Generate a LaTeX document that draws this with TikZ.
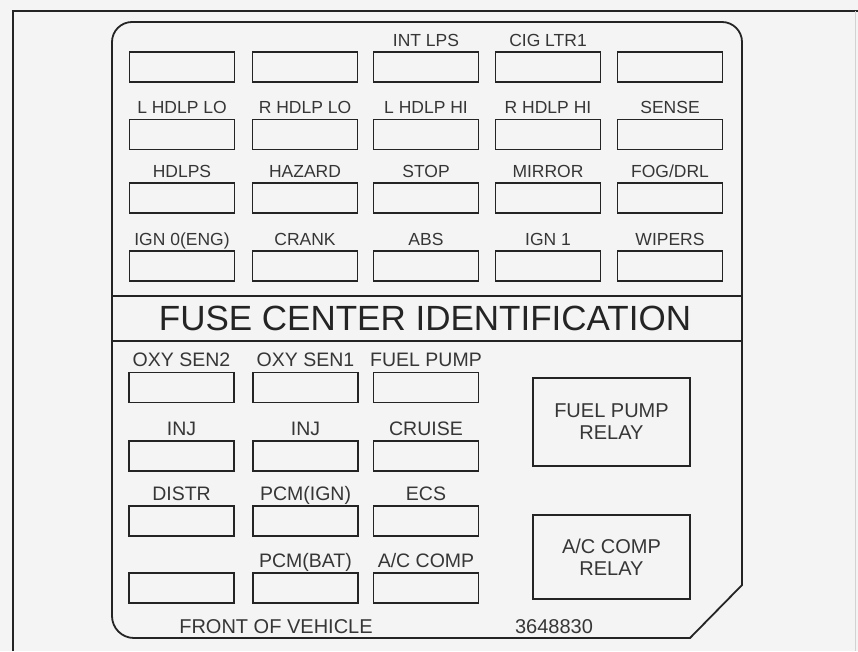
\documentclass[tikz,border=0pt]{standalone}
\usepackage{fontspec}
\setmainfont{Liberation Sans}
\definecolor{ink}{HTML}{242424}
\definecolor{txt}{HTML}{363636}
\definecolor{bg}{HTML}{F4F4F4}
\begin{document}
\begin{tikzpicture}[x=1pt,y=-1pt,
  fuse/.style={draw=ink,line width=1.8pt,minimum width=105pt,minimum height=30pt,inner sep=0pt},
  relay/.style={draw=ink,line width=1.8pt,minimum width=157pt,inner sep=0pt,align=center,text=txt,
    font=\fontsize{20}{22}\selectfont},
  ulbl/.style={anchor=base,text=txt,inner sep=0pt,font=\fontsize{17.5}{17.5}\selectfont},
  llbl/.style={anchor=base,text=txt,inner sep=0pt,font=\fontsize{19.5}{19.5}\selectfont},
  foot/.style={text=txt,inner sep=0pt,font=\fontsize{20}{20}\selectfont},
  panel/.style={draw=ink,line width=1.8pt},
  frame/.style={draw=ink,line width=2pt}]
\fill[bg] (0,0) rectangle (858,651);
\useasboundingbox (0,0) rectangle (858,651);
% outer frame
\coordinate (ftl) at (13,11);
\coordinate (fbl) at (13,651);
\coordinate (ftr) at (858,11);
\draw[frame] (fbl) -- (ftl) -- (ftr);
\draw[gray!35,line width=1pt] (855,11) -- (855,651);
% panel
\draw[panel] (112,616) -- (112,42) arc[start angle=180,end angle=270,radius=20]
  -- (722,22) arc[start angle=270,end angle=360,radius=20]
  -- (742,585) -- (690,638) -- (134,638) arc[start angle=90,end angle=180,radius=22] -- cycle;
% band
\coordinate (b1l) at (112,296); \coordinate (b1r) at (742,296);
\coordinate (b2l) at (112,341); \coordinate (b2r) at (742,341);
\draw[panel] (b1l) -- (b1r);
\draw[panel] (b2l) -- (b2r);
\node[text=ink,inner sep=0pt,font=\fontsize{35}{35}\selectfont] (title) at (425,318.5) {FUSE CENTER IDENTIFICATION};
% upper fuses
\foreach \c/\x in {1/182,2/305,3/426,4/548,5/670}
  \foreach \r/\y in {1/67,2/134.5,3/198,4/266}
    \node[fuse] (u\r\c) at (\x,\y) {};
\foreach \r/\c/\t in {1/3/{INT LPS},1/4/{CIG LTR1},
  2/1/{L HDLP LO},2/2/{R HDLP LO},2/3/{L HDLP HI},2/4/{R HDLP HI},2/5/{SENSE},
  3/1/{HDLPS},3/2/{HAZARD},3/3/{STOP},3/4/{MIRROR},3/5/{FOG/DRL},
  4/1/{IGN 0(ENG)},4/2/{CRANK},4/3/{ABS},4/4/{IGN 1},4/5/{WIPERS}}
  \node[ulbl] (ul\r\c) at ([yshift=5pt]u\r\c.north) {\t};
% lower fuses
\foreach \c/\x in {1/181.5,2/305.5,3/426}
  \foreach \r/\y in {1/387.5,2/456,3/521,4/588}
    \node[fuse] (l\r\c) at (\x,\y) {};
\foreach \r/\c/\t in {1/1/{OXY SEN2},1/2/{OXY SEN1},1/3/{FUEL PUMP},
  2/1/{INJ},2/2/{INJ},2/3/{CRUISE},
  3/1/{DISTR},3/2/{PCM(IGN)},3/3/{ECS},
  4/2/{PCM(BAT)},4/3/{A/C COMP}}
  \node[llbl] (ll\r\c) at ([yshift=5pt]l\r\c.north) {\t};
% relays
\node[relay,minimum height=88pt] (fpr) at (611.5,422) {FUEL PUMP\\RELAY};
\node[relay,minimum height=84pt] (acr) at (611.5,557) {A/C COMP\\RELAY};
% footer
\node[foot] (front) at (276,627) {FRONT OF VEHICLE};
\node[foot] (num) at (554,627) {3648830};
\end{tikzpicture}
\end{document}
